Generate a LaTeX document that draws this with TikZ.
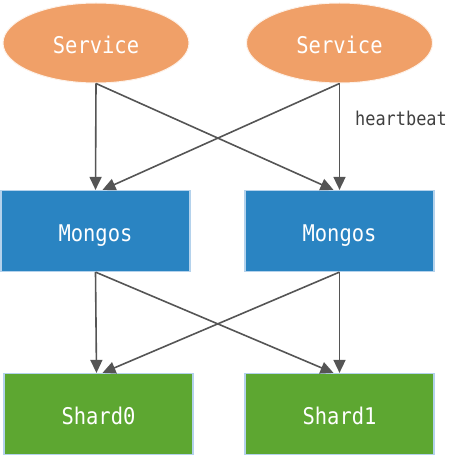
\documentclass[tikz,border=0pt]{standalone}
\usepackage{fontspec}
\newfontfamily\labfont[FakeStretch=0.89]{DejaVu Sans Mono}
\usetikzlibrary{shapes.geometric,arrows.meta}
\definecolor{svc}{HTML}{F0A068}
\definecolor{mgs}{HTML}{2A84C2}
\definecolor{shd}{HTML}{5DA731}
\definecolor{edgeb}{HTML}{B4D2EC}
\definecolor{arr}{HTML}{555555}
\definecolor{hbc}{HTML}{404040}
\tikzset{
  txt/.style={text=white, font=\labfont\fontsize{23}{26}\selectfont, text height=21pt, text depth=0pt},
  svcnode/.style={ellipse, fill=svc, draw=white!85!svc, line width=1pt, minimum width=186pt, minimum height=80pt, inner sep=0pt, txt},
  boxnode/.style={rectangle, draw=edgeb, line width=1.2pt, minimum width=189pt, minimum height=81pt, inner sep=0pt, txt},
  link/.style={draw=arr, line width=1.6pt, -{Triangle[length=13pt,width=12pt]}}
}
\begin{document}
\begin{tikzpicture}[x=1pt,y=-1pt]
\useasboundingbox (0,0) rectangle (466,457);
\node[svcnode] (s1) at (96,43) {Service};
\node[svcnode] (s2) at (339.5,43) {Service};
\node[boxnode, fill=mgs] (m1) at (95.5,231) {Mongos};
\node[boxnode, fill=mgs] (m2) at (339.5,231) {Mongos};
\node[boxnode, fill=shd] (d0) at (98.5,414) {Shard0};
\node[boxnode, fill=shd] (d1) at (339.5,414) {Shard1};
\node[text=hbc, font=\labfont\fontsize{19}{22}\selectfont, anchor=base west, inner sep=0pt] (hb) at (355,126) {heartbeat};
\coordinate (m1a) at ([xshift=7pt]m1.north);
\coordinate (m2a) at ([xshift=-6pt]m2.north);
\coordinate (d0a) at ([xshift=4pt]d0.north);
\coordinate (d1a) at ([xshift=-6pt]d1.north);
\draw[link] (s1.south) -- (m1.north);
\draw[link] (s1.south) -- (m2a);
\draw[link] (s2.south) -- (m2.north);
\draw[link] (s2.south) -- (m1a);
\draw[link] (m1.south) -- ([xshift=-2pt]d0.north);
\draw[link] (m1.south) -- (d1a);
\draw[link] (m2.south) -- (d1.north);
\draw[link] (m2.south) -- (d0a);
\end{tikzpicture}
\end{document}
